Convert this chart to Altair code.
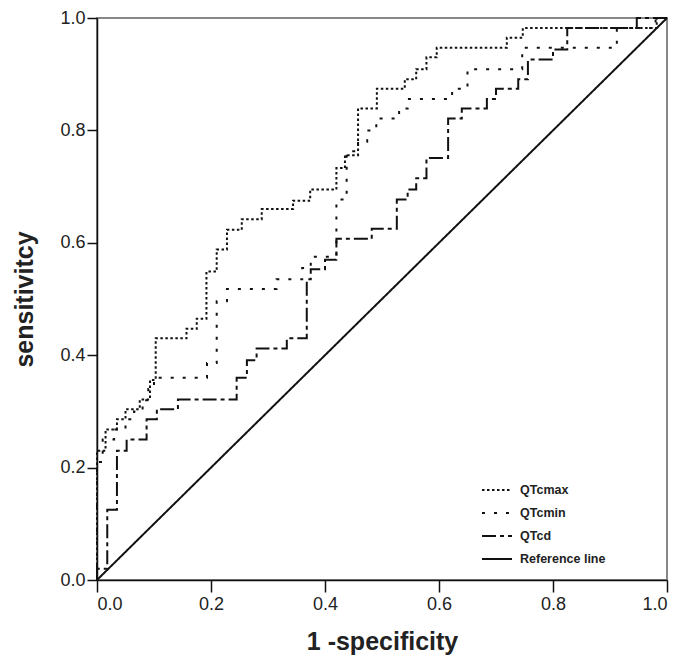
import altair as alt
import pandas as pd

# ROC curve vertices (1 - specificity, sensitivity)
qtcmax_x = [0, 0, 0.015, 0.015, 0.035, 0.035, 0.05, 0.05, 0.075, 0.075, 0.093, 0.093,
            0.103, 0.103, 0.157, 0.157, 0.175, 0.175, 0.192, 0.192, 0.21, 0.21, 0.228, 0.228,
            0.254, 0.254, 0.289, 0.289, 0.344, 0.344, 0.374, 0.374, 0.42, 0.42, 0.435, 0.435,
            0.458, 0.458, 0.491, 0.491, 0.54, 0.54, 0.56, 0.56, 0.578, 0.578, 0.596, 0.596,
            0.719, 0.719, 0.747, 0.747, 0.982, 0.982, 1.0]
qtcmax_y = [0, 0.23, 0.23, 0.268, 0.268, 0.286, 0.286, 0.304, 0.304, 0.321, 0.321, 0.356,
            0.356, 0.43, 0.43, 0.447, 0.447, 0.465, 0.465, 0.549, 0.549, 0.588, 0.588, 0.623,
            0.623, 0.642, 0.642, 0.66, 0.66, 0.675, 0.675, 0.695, 0.695, 0.733, 0.733, 0.756,
            0.756, 0.839, 0.839, 0.874, 0.874, 0.891, 0.891, 0.909, 0.909, 0.93, 0.93, 0.947,
            0.947, 0.965, 0.965, 0.982, 0.982, 1.0, 1.0]

qtcmin_x = [0, 0, 0.01, 0.01, 0.03, 0.03, 0.05, 0.05, 0.065, 0.065, 0.08, 0.08, 0.09, 0.09,
            0.1, 0.1, 0.193, 0.193, 0.21, 0.21, 0.228, 0.228, 0.315, 0.315, 0.36, 0.36,
            0.375, 0.375, 0.42, 0.42, 0.438, 0.438, 0.458, 0.458, 0.474, 0.474, 0.49, 0.49,
            0.53, 0.53, 0.545, 0.545, 0.623, 0.623, 0.65, 0.65, 0.746, 0.746, 0.912, 0.912,
            0.98, 0.98, 1.0]
qtcmin_y = [0, 0.21, 0.21, 0.25, 0.25, 0.268, 0.268, 0.286, 0.286, 0.30, 0.30, 0.32, 0.32,
            0.34, 0.34, 0.36, 0.36, 0.386, 0.386, 0.496, 0.496, 0.518, 0.518, 0.535, 0.535,
            0.555, 0.555, 0.575, 0.575, 0.677, 0.677, 0.763, 0.763, 0.78, 0.78, 0.80, 0.80,
            0.821, 0.821, 0.839, 0.839, 0.856, 0.856, 0.874, 0.874, 0.909, 0.909, 0.947,
            0.947, 0.982, 0.982, 1.0, 1.0]

qtcd_x = [0, 0, 0.018, 0.018, 0.035, 0.035, 0.052, 0.052, 0.087, 0.087, 0.105, 0.105,
          0.142, 0.142, 0.245, 0.245, 0.263, 0.263, 0.28, 0.28, 0.333, 0.333, 0.368, 0.368,
          0.375, 0.375, 0.4, 0.4, 0.42, 0.42, 0.482, 0.482, 0.526, 0.526, 0.545, 0.545,
          0.56, 0.56, 0.578, 0.578, 0.616, 0.616, 0.64, 0.64, 0.684, 0.684, 0.7, 0.7,
          0.739, 0.739, 0.756, 0.756, 0.8, 0.8, 0.825, 0.825, 0.947, 0.947, 1.0]
qtcd_y = [0, 0.02, 0.02, 0.125, 0.125, 0.23, 0.23, 0.25, 0.25, 0.286, 0.286, 0.304, 0.304,
          0.321, 0.321, 0.36, 0.36, 0.391, 0.391, 0.412, 0.412, 0.43, 0.43, 0.535, 0.535,
          0.553, 0.553, 0.57, 0.57, 0.607, 0.607, 0.625, 0.625, 0.677, 0.677, 0.695, 0.695,
          0.715, 0.715, 0.751, 0.751, 0.821, 0.821, 0.839, 0.839, 0.856, 0.856, 0.874,
          0.874, 0.891, 0.891, 0.926, 0.926, 0.944, 0.944, 0.982, 0.982, 1.0, 1.0]

ref_x = [0.0, 1.0]
ref_y = [0.0, 1.0]

series_names = ["QTcmax", "QTcmin", "QTcd", "Reference line"]
series_dash = [[2.5, 2.5], [3, 9], [14, 4, 4, 4], [1, 0]]
series_width = [2, 2, 2.6, 1.6]

rows = []
for name, xs, ys in zip(series_names,
                        [qtcmax_x, qtcmin_x, qtcd_x, ref_x],
                        [qtcmax_y, qtcmin_y, qtcd_y, ref_y]):
    for i, (xv, yv) in enumerate(zip(xs, ys)):
        rows.append({"series": name, "fpr": xv, "tpr": yv, "order": i})
df = pd.DataFrame(rows)

font = "Liberation Sans"

chart = alt.Chart(df).mark_line(color="#111111", strokeCap="butt", clip=False).encode(
    x=alt.X("fpr:Q", scale=alt.Scale(domain=[0, 1], nice=False),
            axis=alt.Axis(title="1 -specificity", values=[0, 0.2, 0.4, 0.6, 0.8, 1.0],
                          format=".1f", grid=False, tickSize=12, tickWidth=1.5,
                          tickColor="#111", domainColor="#111", domainWidth=1.5,
                          labelFontSize=18, labelFont=font, labelColor="#222",
                          labelPadding=3, titleFontSize=25, titleFont=font,
                          titleFontWeight="bold", titleColor="#222", titlePadding=16)),
    y=alt.Y("tpr:Q", scale=alt.Scale(domain=[0, 1], nice=False),
            axis=alt.Axis(title="sensitivitcy", values=[0, 0.2, 0.4, 0.6, 0.8, 1.0],
                          format=".1f", grid=False, tickSize=10, tickWidth=1.5,
                          tickColor="#111", domainColor="#111", domainWidth=1.5,
                          labelFontSize=18, labelFont=font, labelColor="#222",
                          labelPadding=2, titleFontSize=25, titleFont=font,
                          titleFontWeight="bold", titleColor="#222", titlePadding=22)),
    strokeDash=alt.StrokeDash("series:N",
                              scale=alt.Scale(domain=series_names, range=series_dash),
                              legend=alt.Legend(title=None, orient="none", legendX=384,
                                                legendY=456, symbolType="stroke",
                                                symbolSize=900, symbolStrokeWidth=2,
                                                symbolStrokeColor="#111",
                                                labelFont=font, labelFontSize=12.5,
                                                labelFontWeight="bold", labelColor="#222",
                                                rowPadding=-11, labelOffset=7)),
    strokeWidth=alt.StrokeWidth("series:N",
                                scale=alt.Scale(domain=series_names, range=series_width),
                                legend=None),
    order="order:Q",
).properties(
    width=570, height=562,
    autosize=alt.AutoSizeParams(type="none"),
    padding={"left": 89, "top": 10, "right": 10, "bottom": 85},
).configure_view(stroke="#888888", strokeWidth=2)

chart.save("out.html", embed_options={"renderer": "svg", "actions": False})
